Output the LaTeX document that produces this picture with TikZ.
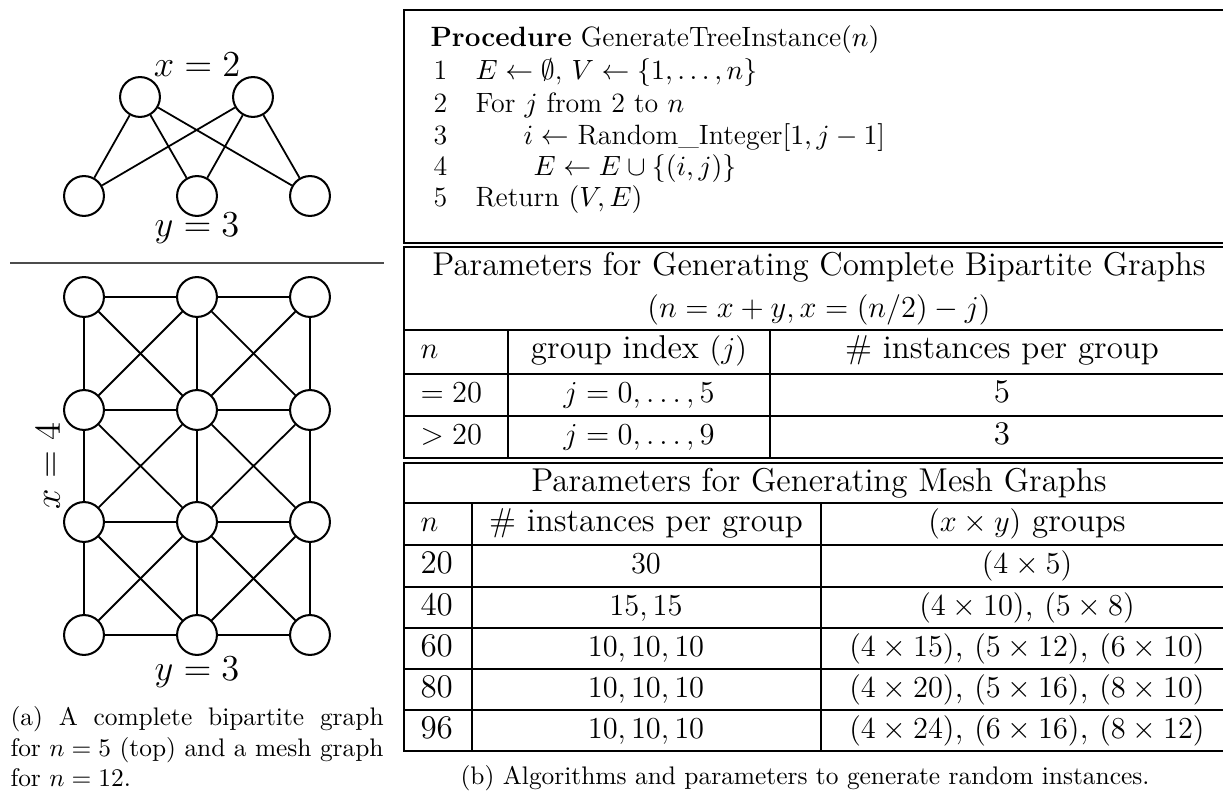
\documentclass[tikz,border=0pt]{standalone}
\usepackage{amsmath}
\usepackage{amssymb}
\usepackage{tikz}
\usetikzlibrary{positioning}

\tikzset{
  vert/.style={circle, draw, line width=0.8pt, minimum size=15.7pt, inner sep=0pt},
  link/.style={line width=0.7pt},
  glabel/.style={font=\fontsize{15}{18}\selectfont, inner sep=0pt},
  tline/.style={line width=0.6pt},
  proc/.style={font=\fontsize{11}{13.2}\selectfont, anchor=base west, inner sep=0pt},
  cell/.style={font=\fontsize{13}{15.6}\selectfont, anchor=base, inner sep=0pt},
  lcell/.style={cell, anchor=base west},
  capt/.style={font=\fontsize{10}{12}\selectfont, inner sep=0pt},
}

\begin{document}
\begin{tikzpicture}[x=0.3937pt, y=-0.3937pt]
    \useasboundingbox (0,0) rectangle (1223,793);

    % Complete bipartite graph (top left)
    \node[vert] (b1) at (140,97) {};
    \node[vert] (b2) at (253,97) {};
    \node[vert] (c1) at (84,196) {};
    \node[vert] (c2) at (197,196) {};
    \node[vert] (c3) at (310,196) {};
    \node[glabel] (xtwo) at (197,65) {$x=2$};
    \node[glabel] (ythree) at (197,228) {$y=3$};
    \foreach \t in {b1,b2}
        \foreach \b in {c1,c2,c3}
            \draw[link] (\t) -- (\b);

    \draw[line width=0.5pt, black!70] (10,263) -- (384,263);

    % Mesh graph (bottom left)
    \foreach \y [count=\r] in {297,410,522,635}
        \foreach \x [count=\c] in {84,197,310}
            \node[vert] (m\r\c) at (\x,\y) {};
    \foreach \r in {1,...,4}
        \draw[link] (m\r1) -- (m\r2) -- (m\r3);
    \foreach \c in {1,2,3}
        \draw[link] (m1\c) -- (m2\c) -- (m3\c) -- (m4\c);
    \foreach \r/\s in {1/2,2/3,3/4}
        \foreach \c/\d in {1/2,2/3} {
            \draw[link] (m\r\c) -- (m\s\d);
            \draw[link] (m\r\d) -- (m\s\c);
        }
    \node[glabel, rotate=90] (xfour) at (48,466) {$x=4$};
    \node[glabel] (ymesh) at (197,672) {$y=3$};

    \node[capt, text width=146.9pt, align=justify, anchor=base west] (capa) at (10,726)
        {(a) A complete bipartite graph\linebreak for $n=5$ (top) and a mesh graph\linebreak for $n=12$.};

    % Procedure box
    \draw[tline] (1234,10) -- (404,10) -- (404,243) -- (1234,243);
    \node[proc] (ptitle) at (430,47) {\textbf{Procedure} GenerateTreeInstance$(n)$};
    \node[proc] (n1) at (433,80) {1};
    \node[proc] (n2) at (433,112.5) {2};
    \node[proc] (n3) at (433,144.5) {3};
    \node[proc] (n4) at (433,175.5) {4};
    \node[proc] (n5) at (433,206.5) {5};
    \node[proc] (s1) at (475,80) {$E \leftarrow \emptyset$, $V \leftarrow \{1,\ldots,n\}$};
    \node[proc] (s2) at (475,112.5) {For $j$ from 2 to $n$};
    \node[proc] (s3) at (523,144.5) {$i \leftarrow$ Random\_Integer$[1,j-1]$};
    \node[proc] (s4) at (533,175.5) {$E \leftarrow E \cup \{(i,j)\}$};
    \node[proc] (s5) at (475,206.5) {Return $(V,E)$};

    % Bipartite parameter table
    \draw[tline] (1234,247) -- (404,247) -- (404,458) -- (1234,458);
    \foreach \y in {330,374,416}
        \draw[tline] (404,\y) -- (1234,\y);
    \draw[tline] (508,330) -- (508,458);
    \draw[tline] (770,330) -- (770,458);
    \node[cell] (bt1) at (819,276) {Parameters for Generating Complete Bipartite Graphs};
    \node[cell] (bt2) at (819,317.5) {$(n=x+y, x=(n/2)-j)$};
    \node[lcell] (bh1) at (420,359) {$n$};
    \node[cell] (bh2) at (639,359) {group index $(j)$};
    \node[cell] (bh3) at (1002,359) {\# instances per group};
    \node[lcell] (ba1) at (420,403) {$=20$};
    \node[cell] (ba2) at (639,403) {$j=0,\ldots,5$};
    \node[cell] (ba3) at (1002,403) {5};
    \node[lcell] (bb1) at (420,445) {$>20$};
    \node[cell] (bb2) at (639,445) {$j=0,\ldots,9$};
    \node[cell] (bb3) at (1002,445) {3};

    % Mesh parameter table
    \draw[tline] (1234,463) -- (404,463) -- (404,751) -- (1234,751);
    \foreach \y in {503,545,587,628,669,710}
        \draw[tline] (404,\y) -- (1234,\y);
    \draw[tline] (472,503) -- (472,751);
    \draw[tline] (821,503) -- (821,751);
    \node[cell] (mt) at (819,492) {Parameters for Generating Mesh Graphs};
    \node[lcell] (mh1) at (420,532) {$n$};
    \node[cell] (mh2) at (646,532) {\# instances per group};
    \node[cell] (mh3) at (1027,532) {$(x\times y)$ groups};
    \foreach \n/\k/\g [count=\i] in {
        20/$30$/{$(4\times5)$},
        40/{$15,15$}/{$(4\times10)$, $(5\times8)$},
        60/{$10,10,10$}/{$(4\times15)$, $(5\times12)$, $(6\times10)$},
        80/{$10,10,10$}/{$(4\times20)$, $(5\times16)$, $(8\times10)$},
        96/{$10,10,10$}/{$(4\times24)$, $(6\times16)$, $(8\times12)$}} {
        \pgfmathsetmacro{\yb}{574+41.25*(\i-1)}
        \node[lcell] (mr\i n) at (420,\yb) {\n};
        \node[cell] (mr\i k) at (646,\yb) {\k};
        \node[cell] (mr\i g) at (1027,\yb) {\g};
    }

    \node[capt, anchor=base] (capb) at (805,785) {(b) Algorithms and parameters to generate random instances.};
\end{tikzpicture}
\end{document}
